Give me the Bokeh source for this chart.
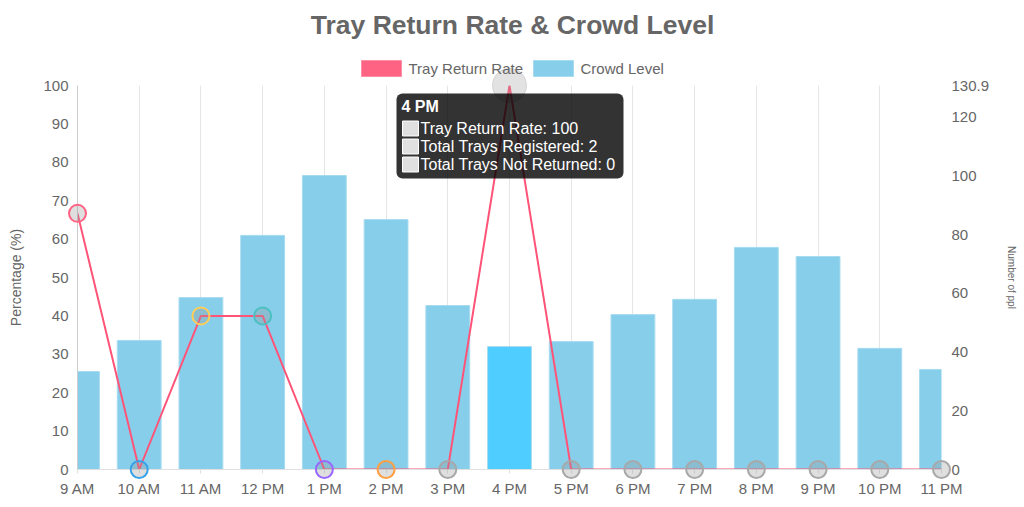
from bokeh.plotting import figure
from bokeh.models import (Range1d, LinearAxis, FixedTicker, BoxAnnotation,
                          ColumnDataSource)
from bokeh.core.properties import value
from bokeh.embed import file_html
from bokeh.resources import INLINE

# ---------------- data ----------------
hours = ["9 AM", "10 AM", "11 AM", "12 PM", "1 PM", "2 PM", "3 PM", "4 PM",
         "5 PM", "6 PM", "7 PM", "8 PM", "9 PM", "10 PM", "11 PM"]
return_rate = [66.7, 0, 40, 40, 0, 0, 0, 100, 0, 0, 0, 0, 0, 0, 0]
crowd_level = [33.4, 44.0, 58.6, 79.8, 100.2, 85.2, 55.9, 41.9, 43.6, 52.8,
               58.0, 75.7, 72.6, 41.3, 34.1]
point_borders = ["#FF6384", "#36A2EB", "#FFCE56", "#4BC0C0", "#9966FF", "#FF9F40",
                 "#A8A8A8", "#A8A8A8", "#A8A8A8", "#A8A8A8", "#A8A8A8", "#A8A8A8",
                 "#A8A8A8", "#A8A8A8", "#A8A8A8"]
left_ticks = [0, 10, 20, 30, 40, 50, 60, 70, 80, 90, 100]
right_max = 130.9
right_ticks = [0, 20, 40, 60, 80, 100, 120, 130.9]
series_names = ["Tray Return Rate", "Crowd Level"]
series_colors = ["#FF6384", "#87CEEB"]
chart_title = "Tray Return Rate & Crowd Level"
hover_index = 7
tooltip_title = "4 PM"
tooltip_lines = ["Tray Return Rate: 100", "Total Trays Registered: 2",
                 "Total Trays Not Returned: 0"]

FONT = "Liberation Sans"
TXT = "#666666"

n = len(hours)
xs = list(range(n))

W, H = 1020, 500
ML, MR, MT, MB = 77, 79, 85, 31
frame_w = W - ML - MR
frame_h = H - MT - MB
px_x = frame_w / (n - 1)      # pixels per category
px_y = frame_h / 100          # pixels per percent


def dx(px):   # canvas x (px) -> data x
    return (px - ML) / px_x


def dy(py):   # canvas y (px, from top) -> data y
    return (MT + frame_h - py) / px_y


p = figure(width=W, height=H, output_backend="svg", toolbar_location=None,
           x_range=Range1d(0, n - 1), y_range=Range1d(0, 100),
           min_border_left=ML, min_border_right=MR, min_border_top=MT,
           min_border_bottom=MB, outline_line_color=None)
p.extra_y_ranges = {"ppl": Range1d(0, right_max)}
p.title.text = ""

# bars
bar_colors = ["#4FCDFF" if i == hover_index else series_colors[1] for i in xs]
bar_src = ColumnDataSource(dict(x=xs, top=crowd_level, color=bar_colors))
p.vbar(x="x", top="top", width=0.71, source=bar_src, y_range_name="ppl",
       fill_color="color", line_color="#A6DBF0", line_width=1)

# line
p.line(xs, return_rate, line_color="#FF5478", line_width=2)

# points
pt_alpha = [0 if i == hover_index else 1 for i in xs]
pt_fill_alpha = [0 if i == hover_index else 0.3 for i in xs]
pt_src = ColumnDataSource(dict(x=xs, y=return_rate, lc=point_borders,
                               la=pt_alpha, fa=pt_fill_alpha))
p.scatter(x="x", y="y", source=pt_src, size=17, fill_color="#969696",
          fill_alpha="fa", line_color="lc", line_alpha="la", line_width=2,
          level="annotation")

# hovered point
p.scatter([xs[hover_index]], [return_rate[hover_index]], size=34,
          fill_color="#A0A0A0", fill_alpha=0.3, line_color="#A0A0A0",
          line_alpha=0.35, line_width=1, level="annotation")

# axes
p.xaxis.ticker = FixedTicker(ticks=xs)
p.xaxis.major_label_overrides = {i: h for i, h in enumerate(hours)}
p.yaxis.ticker = FixedTicker(ticks=left_ticks)
for ax in (p.xaxis[0], p.yaxis[0]):
    ax.major_label_text_font = FONT
    ax.major_label_text_font_size = "15px"
    ax.major_label_text_color = TXT
    ax.minor_tick_line_color = None
p.xaxis.axis_line_color = "#E0E0E0"
p.xaxis.major_tick_line_color = "#E0E0E0"
p.xaxis.major_tick_in = 0
p.xaxis.major_tick_out = 4
p.xaxis.major_label_standoff = 6
p.yaxis.axis_line_color = "#CCCCCC"
p.yaxis.major_tick_line_color = None
p.yaxis.major_tick_in = 0
p.yaxis.major_tick_out = 0
p.yaxis.major_label_standoff = 9
p.yaxis.axis_label = "Percentage (%)"
p.yaxis.axis_label_text_font = FONT
p.yaxis.axis_label_text_font_size = "14px"
p.yaxis.axis_label_text_font_style = "normal"
p.yaxis.axis_label_text_color = TXT
p.yaxis.axis_label_standoff = 16

ry = LinearAxis(y_range_name="ppl", ticker=FixedTicker(ticks=right_ticks),
                major_label_overrides={t: str(t) for t in right_ticks},
                axis_label="Number of ppl", axis_label_text_font=FONT,
                axis_label_text_font_size="10px", axis_label_text_font_style="normal",
                axis_label_text_color=TXT, axis_label_standoff=14,
                major_label_text_font=FONT, major_label_text_font_size="15px",
                major_label_text_color=TXT, major_label_standoff=10,
                major_tick_in=0, major_tick_out=0,
                axis_line_color=None, major_tick_line_color=None,
                minor_tick_line_color=None)
p.add_layout(ry, "right")

p.xgrid.grid_line_color = "#E5E5E5"
p.xgrid.ticker = FixedTicker(ticks=xs)
p.ygrid.grid_line_color = None

# title (drawn above the frame, centred on the canvas)
p.text([dx(512)], [dy(24)], text=[chart_title], text_font=value(FONT),
       text_font_size="26.5px", text_font_style="bold", text_color=TXT,
       text_align="center", text_baseline="middle", level="overlay")

# legend (drawn above the frame)
leg_box_x = [dx(381), dx(553)]
leg_txt_x = [dx(408), dx(580)]
p.rect(leg_box_x, [dy(68)] * 2, width=40, height=16, width_units="screen",
       height_units="screen", fill_color=series_colors,
       line_color=["#FF8FA5", "#A6DBF0"], line_width=1, level="overlay")
p.text(leg_txt_x, [dy(68)] * 2, text=series_names, text_font=value(FONT),
       text_font_size="15px", text_color=TXT, text_baseline="middle",
       level="overlay")

# tooltip (anchored at the hovered point; offsets in pixels)
ax_, ay_ = xs[hover_index], return_rate[hover_index]
box = BoxAnnotation(left=ax_ - 113 / px_x, right=ax_ + 114 / px_x,
                    top=ay_ - 8 / px_y, bottom=ay_ - 93 / px_y,
                    fill_color="#000000", fill_alpha=0.8, line_color=None,
                    border_radius=6, level="annotation")
p.add_layout(box)
p.text([ax_], [ay_], text=[tooltip_title], x_offset=-108, y_offset=21,
       text_font=value(FONT), text_font_size="16px", text_font_style="bold",
       text_color="#FFFFFF", text_baseline="middle", level="overlay")
p.text([ax_] * len(tooltip_lines), [ay_] * len(tooltip_lines), text=tooltip_lines,
       x_offset=-89, y_offset=[43 + 18 * i for i in range(len(tooltip_lines))],
       text_font=value(FONT), text_font_size="16px", text_color="#FFFFFF",
       text_baseline="middle", level="overlay")
p.rect([ax_ - 99 / px_x] * len(tooltip_lines),
       [ay_ - (43 + 18 * i) / px_y for i in range(len(tooltip_lines))],
       width=16, height=15, width_units="screen", height_units="screen",
       fill_color="#E0E0E0", line_color="#FFFFFF", line_width=1, level="overlay")

open("out.html", "w").write(file_html(p, INLINE))
